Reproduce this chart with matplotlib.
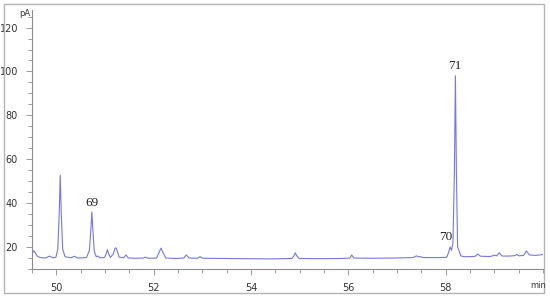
import matplotlib.pyplot as plt
from matplotlib.ticker import MultipleLocator

# chromatogram trace (time in min, signal in pA)
time_min = [49.50, 49.52, 49.54, 49.57, 49.61, 49.67, 49.78, 49.86, 49.93,
            49.99, 50.03, 50.06, 50.08, 50.10, 50.13, 50.18, 50.30, 50.37, 50.44,
            50.62, 50.68, 50.71, 50.73, 50.75, 50.78, 50.82, 50.85, 50.90,
            50.99, 51.03, 51.05, 51.07, 51.11, 51.17, 51.20, 51.22, 51.24, 51.29,
            51.38, 51.43, 51.48, 51.62, 51.79, 51.83, 51.88, 52.06, 52.11, 52.15,
            52.19, 52.25, 52.45, 52.62, 52.67, 52.73, 52.90, 52.95, 53.01, 53.40,
            53.90, 54.40, 54.84, 54.89, 54.91, 54.94, 54.99, 55.40, 55.90, 56.03,
            56.07, 56.11, 56.45, 56.95, 57.33, 57.40, 57.44, 57.47, 57.53, 57.80,
            58.02, 58.06, 58.09, 58.12, 58.15, 58.18, 58.20, 58.22, 58.245, 58.27,
            58.31, 58.38, 58.60, 58.66, 58.72, 58.92, 59.00, 59.05, 59.10, 59.16,
            59.32, 59.42, 59.46, 59.51, 59.60, 59.66, 59.72, 59.85, 60.00]
signal_pa = [18.0, 17.6, 18.3, 17.2, 15.8, 15.2, 15.0, 15.9, 15.1,
             15.3, 19.0, 36.0, 52.7, 36.0, 19.0, 15.6, 15.1, 15.8, 15.0,
             15.2, 18.5, 28.0, 36.0, 28.0, 18.0, 15.6, 15.9, 15.1,
             15.2, 17.2, 18.8, 17.2, 15.3, 16.8, 19.0, 19.7, 19.0, 15.4,
             15.1, 16.4, 15.0, 14.9, 15.0, 15.4, 14.9, 15.0, 17.5, 19.5,
             17.5, 15.0, 14.8, 15.0, 16.4, 15.0, 14.9, 15.6, 14.9, 14.8,
             14.7, 14.6, 14.8, 16.3, 17.4, 16.0, 14.8, 14.7, 14.8, 15.0,
             16.4, 15.0, 14.9, 15.0, 15.2, 16.0, 15.5, 15.7, 15.2, 15.2,
             15.3, 17.5, 20.0, 18.5, 22.0, 55.0, 98.0, 55.0, 20.0, 18.6,
             16.0, 15.6, 15.7, 16.8, 15.8, 15.7, 16.3, 16.0, 17.4, 15.9,
             15.9, 16.1, 16.6, 16.0, 16.2, 18.2, 16.4, 16.2, 16.6]

x_ticks = [50, 52, 54, 56, 58]
y_ticks = [20, 40, 60, 80, 100, 120]

peak_ids = ["69", "70", "71"]
peak_x = [50.73, 58.00, 58.19]
peak_y = [40.0, 24.7, 102.4]

fig = plt.figure(figsize=(5.5, 3.03), dpi=100)
# light grey frame round the whole picture
fig.patches.append(plt.Rectangle((4 / 550, 10 / 303), 540 / 550, 289 / 303,
                                 transform=fig.transFigure, fill=False,
                                 edgecolor="#b4b4b4", linewidth=1.0))

ax = fig.add_axes([32 / 550, 1 - 269 / 303, 511 / 550, 259 / 303])
ax.plot(time_min, signal_pa, color="#7676e8", linewidth=0.8)

ax.set_xlim(49.5, 60.0)
ax.set_ylim(10, 128)
ax.set_xticks(x_ticks)
ax.xaxis.set_minor_locator(MultipleLocator(0.5))
ax.set_yticks(y_ticks)
ax.yaxis.set_minor_locator(MultipleLocator(5))

for s in ["top", "right"]:
    ax.spines[s].set_visible(False)
for s in ["left", "bottom"]:
    ax.spines[s].set_color("#8c8c8c")
    ax.spines[s].set_linewidth(0.8)

narrow = ["Liberation Sans Narrow", "DejaVu Sans"]
ax.tick_params(which="both", color="#8c8c8c", width=0.6, labelcolor="#333333")
ax.tick_params(which="major", length=4, pad=6)
ax.tick_params(which="minor", length=3)
for lab in ax.get_xticklabels() + ax.get_yticklabels():
    lab.set_fontfamily(narrow)
    lab.set_fontsize(7)

fig.text(25 / 550, 1 - 13 / 303, "pA", ha="center", va="center",
         fontsize=6, family=narrow, color="#333333")
fig.text(538 / 550, 1 - 286 / 303, "min", ha="center", va="center",
         fontsize=6, family=narrow, color="#333333")

for lab, x, y in zip(peak_ids, peak_x, peak_y):
    ax.text(x, y, lab, ha="center", va="center", fontsize=9.5,
            family="Liberation Serif", color="#222222")

fig.savefig("out.png", dpi=100)
